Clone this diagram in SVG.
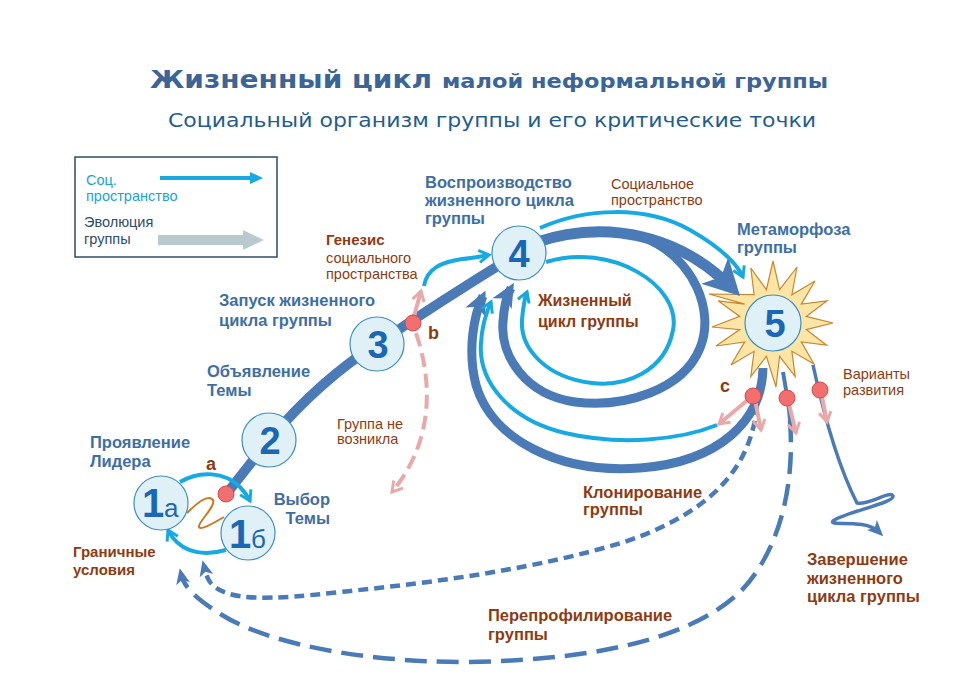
<svg xmlns="http://www.w3.org/2000/svg" width="979" height="693" viewBox="0 0 979 693">
<style>
.dk{fill:none;stroke:#4a7bb7;stroke-linecap:butt}
.lt{fill:none;stroke:#17a9e2;stroke-width:4}
.pk{fill:none;stroke:#e9a9a9;stroke-width:4}
.dot{fill:#f36e6e;stroke:#d24d4d;stroke-width:1}
.node{fill:#dff0f6;stroke:#3d8fc2;stroke-width:1.2}
.num{font-family:"Liberation Sans",Arial,sans-serif;font-weight:bold;font-size:38px;fill:#1a67b5;text-anchor:middle}
.lbl{font-family:"Liberation Sans",Arial,sans-serif;font-weight:bold;font-size:16.5px;fill:#3e6ea6}
.br{font-family:"Liberation Sans",Arial,sans-serif;font-weight:bold;font-size:16.5px;fill:#8e3b12}
.brr{font-family:"Liberation Sans",Arial,sans-serif;font-size:14.5px;fill:#8e3b12}
.let{font-family:"Liberation Sans",Arial,sans-serif;font-weight:bold;font-size:18px;fill:#8e3b12}
.lg{font-family:"Liberation Sans",Arial,sans-serif;font-size:14.5px}
</style>
<defs>
<marker id="mDark" markerUnits="userSpaceOnUse" viewBox="0 0 24 24" markerWidth="24" markerHeight="24" refX="18" refY="12" orient="auto">
<path d="M0,1 L24,12 L0,23 L6,12 z" fill="#4a7bb7"/>
</marker>
<marker id="mBig" markerUnits="userSpaceOnUse" viewBox="0 0 36 38" markerWidth="36" markerHeight="38" refX="26" refY="19" orient="auto">
<path d="M0,0 L36,19 L0,38 L9,19 z" fill="#4a7bb7"/>
</marker>
<marker id="mDash" markerUnits="userSpaceOnUse" viewBox="0 0 16 16" markerWidth="16" markerHeight="16" refX="10" refY="8" orient="auto">
<path d="M0,1 L16,8 L0,15 L4,8 z" fill="#4a7bb7"/>
</marker>
<marker id="mLt" markerUnits="userSpaceOnUse" viewBox="0 0 16 16" markerWidth="16" markerHeight="16" refX="13" refY="8" orient="auto">
<path d="M3,2 L13,8 L3,14" fill="none" stroke="#17a9e2" stroke-width="3"/>
</marker>
<marker id="mPk" markerUnits="userSpaceOnUse" viewBox="0 0 16 16" markerWidth="16" markerHeight="16" refX="13" refY="8" orient="auto">
<path d="M3,2 L13,8 L3,14" fill="none" stroke="#e9a9a9" stroke-width="3"/>
</marker>
</defs>
<rect width="979" height="693" fill="#ffffff"/>

<g id="title">
<text x="150" y="88" textLength="282" lengthAdjust="spacingAndGlyphs" style="font-family:'DejaVu Sans',Verdana,sans-serif;font-weight:bold;font-size:25px;fill:#3a6596">Жизненный цикл</text>
<text x="442" y="88" textLength="386" lengthAdjust="spacingAndGlyphs" style="font-family:'DejaVu Sans',Verdana,sans-serif;font-weight:bold;font-size:19px;fill:#3a6596">малой неформальной группы</text>
<text x="168" y="127" textLength="648" lengthAdjust="spacingAndGlyphs" style="font-family:'DejaVu Sans',Tahoma,sans-serif;font-size:19px;fill:#1f5e90">Социальный организм группы и его критические точки</text>
</g>

<g id="legend">
<rect x="75" y="157" width="202" height="100" fill="#ffffff" stroke="#2b4c6c" stroke-width="1.5"/>
<line x1="160" y1="178" x2="252" y2="178" stroke="#17a9e2" stroke-width="4"/>
<polygon points="250,172 263,178 250,184" fill="#17a9e2"/>
<line x1="158" y1="240" x2="245" y2="240" stroke="#b9c9cd" stroke-width="10"/>
<polygon points="243,230 264,240 243,250" fill="#b9c9cd"/>
<text class="lg" x="86" y="185" fill="#1aa3dc">Соц.</text>
<text class="lg" x="86" y="201" fill="#1aa3dc">пространство</text>
<text class="lg" x="84" y="227" fill="#2b4c6c">Эволюция</text>
<text class="lg" x="84" y="244" fill="#2b4c6c">группы</text>
</g>

<g id="burst">
<polygon points="773,261 779.6,289.7 797,267 791.9,294.7 815,281 801.3,304.1 827,300.8 806.3,316.4 833,323 806.3,329.6 826.6,345.2 801.3,341.9 814,364 791.9,351.3 795.2,376.6 779.6,356.3 776,387 766.4,356.3 750.8,376.6 754.1,351.3 731,365 744.7,341.9 716,346 739.7,329.6 712,327 739.7,316.4 718,300.8 744.7,304.1 709,294 754.1,294.7 750.8,268 766.4,289.7" fill="#fde5a6" stroke="#c9872f" stroke-width="1.2"/>
</g>

<g id="connectors">
<path class="dk" stroke-width="10" d="M224,497 L269,440 Q320,380 377,344 Q450,295 519,253"/>
<path class="dk" stroke-width="11" d="M519,250 C575,222 665,220 733,289" marker-end="url(#mBig)"/>
<path class="dk" stroke-width="9" d="M643,237 C695,258 715,312 700,348 C683,390 625,408 575,402 C525,395 500,355 503,322 C504,305 507,295 511,288" marker-end="url(#mDark)"/>
<path class="dk" stroke-width="9" d="M763,368 C762,420 720,462 640,468 C560,474 492,440 476,385 C467,350 474,315 483,296" marker-end="url(#mDark)"/>
<path class="lt" d="M546,262 C610,242 682,285 673,330 C665,372 625,387 592,383 C548,378 520,350 522,320 C523,308 524,300 527,292" marker-end="url(#mLt)"/>
<path class="lt" d="M717,425 C680,440 620,446 565,433 C510,420 478,382 481,343 C482,325 486,313 491,302" marker-end="url(#mLt)"/>
<path class="lt" d="M540,228 C585,208 645,205 690,230 C718,246 736,262 743,277" marker-end="url(#mLt)"/>
<path class="lt" d="M424,286 C427,268 442,262 462,259 C474,258 482,256 489,255" marker-end="url(#mLt)"/>
<path class="lt" d="M180,482 C200,470 225,472 240,487 C245,492 248,497 250,501" marker-end="url(#mLt)"/>
<path class="lt" d="M226,550 C205,556 185,553 173,538 C171,535 169,532 168,530" marker-end="url(#mLt)"/>
<path d="M187,513 C197,503 208,494 213,500 C216,506 200,520 199,526 C198,532 212,524 224,517" fill="none" stroke="#c97a22" stroke-width="2"/>
<path class="dk" stroke-width="4" d="M783,372 C786,390 789,405 790,420"/>
<path class="dk" stroke-width="3.5" d="M813,365 C825,420 840,470 857,503 C870,505 890,490 893,496 C895,503 845,512 833,521 C828,527 865,518 879,532" marker-end="url(#mDash)"/>
<path class="dk" stroke-width="4.5" stroke-dasharray="10 6" d="M757,405 C752,460 720,510 624,542 C540,568 440,582 340,592 C270,600 225,602 210,582 C206,576 205,570 204,566" marker-end="url(#mDash)"/>
<path class="dk" stroke-width="4.5" stroke-dasharray="22 10" d="M790,420 C796,500 772,560 740,592 C700,630 620,660 466,662 C350,662 262,640 222,615 C198,600 184,588 181,574" marker-end="url(#mDash)"/>
<path class="pk" d="M413,320 L421,291" marker-end="url(#mPk)"/>
<path class="pk" stroke-width="4.5" stroke-dasharray="14 7" d="M416,333 C432,380 435,440 392,492" marker-end="url(#mPk)"/>
<path class="pk" d="M750,398 L719,424" marker-end="url(#mPk)"/>
<path class="pk" d="M755,400 L761,430" marker-end="url(#mPk)"/>
<path class="pk" d="M788,400 L796,433" marker-end="url(#mPk)"/>
<path class="pk" d="M821,392 L827,422" marker-end="url(#mPk)"/>
<circle class="dot" cx="226" cy="494" r="8"/>
<circle class="dot" cx="413" cy="323" r="8"/>
<circle class="dot" cx="753" cy="396" r="8"/>
<circle class="dot" cx="787" cy="398" r="8"/>
<circle class="dot" cx="820" cy="390" r="8"/>
</g>

<g id="node1a">
<circle class="node" cx="161" cy="503" r="27"/>
<text x="142" y="517" style="font-family:'Liberation Sans',Arial,sans-serif;font-weight:bold;font-size:40px;fill:#1a67b5">1</text>
<text x="164" y="517" style="font-family:'Liberation Sans',Arial,sans-serif;font-size:26px;fill:#1a67b5">а</text>
</g>
<g id="node1b">
<circle class="node" cx="248" cy="533" r="27"/>
<text x="229" y="548" style="font-family:'Liberation Sans',Arial,sans-serif;font-weight:bold;font-size:40px;fill:#1a67b5">1</text>
<text x="251" y="548" style="font-family:'Liberation Sans',Arial,sans-serif;font-size:26px;fill:#1a67b5">б</text>
</g>
<g id="node2">
<circle class="node" cx="269" cy="440" r="27"/>
<text class="num" x="270" y="454">2</text>
</g>
<g id="node3">
<circle class="node" cx="377" cy="344" r="27"/>
<text class="num" x="378" y="358">3</text>
</g>
<g id="node4">
<circle class="node" cx="519" cy="253" r="27"/>
<text class="num" x="519" y="267">4</text>
</g>
<g id="node5">
<circle class="node" cx="773" cy="323" r="28"/>
<text class="num" x="775" y="337">5</text>
</g>

<g id="labels">
<text class="lbl"><tspan x="425" y="188">Воспроизводство</tspan><tspan x="425" y="206">жизненного цикла</tspan><tspan x="425" y="224">группы</tspan></text>
<text class="lbl"><tspan x="737" y="235">Метаморфоза</tspan><tspan x="737" y="253">группы</tspan></text>
<text class="lbl"><tspan x="219" y="306">Запуск жизненного</tspan><tspan x="219" y="326">цикла группы</tspan></text>
<text class="lbl"><tspan x="207" y="377">Объявление</tspan><tspan x="207" y="396">Темы</tspan></text>
<text class="lbl"><tspan x="90" y="448">Проявление</tspan><tspan x="90" y="467">Лидера</tspan></text>
<text class="lbl" text-anchor="end"><tspan x="330" y="505">Выбор</tspan><tspan x="330" y="524">Темы</tspan></text>

<text class="br" style="font-size:15px" x="326" y="245">Генезис</text>
<text class="brr"><tspan x="326" y="263">социального</tspan><tspan x="326" y="279">пространства</tspan></text>
<text class="brr"><tspan x="611" y="189">Социальное</tspan><tspan x="611" y="205">пространство</tspan></text>
<text class="br" style="font-size:16px"><tspan x="538" y="306">Жизненный</tspan><tspan x="538" y="327">цикл группы</tspan></text>
<text class="brr"><tspan x="337" y="429">Группа  не</tspan><tspan x="337" y="444">возникла</tspan></text>
<text class="brr"><tspan x="843" y="379">Варианты</tspan><tspan x="843" y="395">развития</tspan></text>
<text class="br"><tspan x="583" y="498">Клонирование</tspan><tspan x="583" y="515">группы</tspan></text>
<text class="br" style="font-size:15px"><tspan x="73" y="557">Граничные</tspan><tspan x="73" y="575">условия</tspan></text>
<text class="br"><tspan x="807" y="565">Завершение</tspan><tspan x="807" y="584">жизненного</tspan><tspan x="807" y="602">цикла группы</tspan></text>
<text class="br"><tspan x="488" y="621">Перепрофилирование</tspan><tspan x="488" y="640">группы</tspan></text>
<text class="let" x="206" y="470">a</text>
<text class="let" x="428" y="339">b</text>
<text class="let" x="720" y="392">c</text>
</g>
</svg>
